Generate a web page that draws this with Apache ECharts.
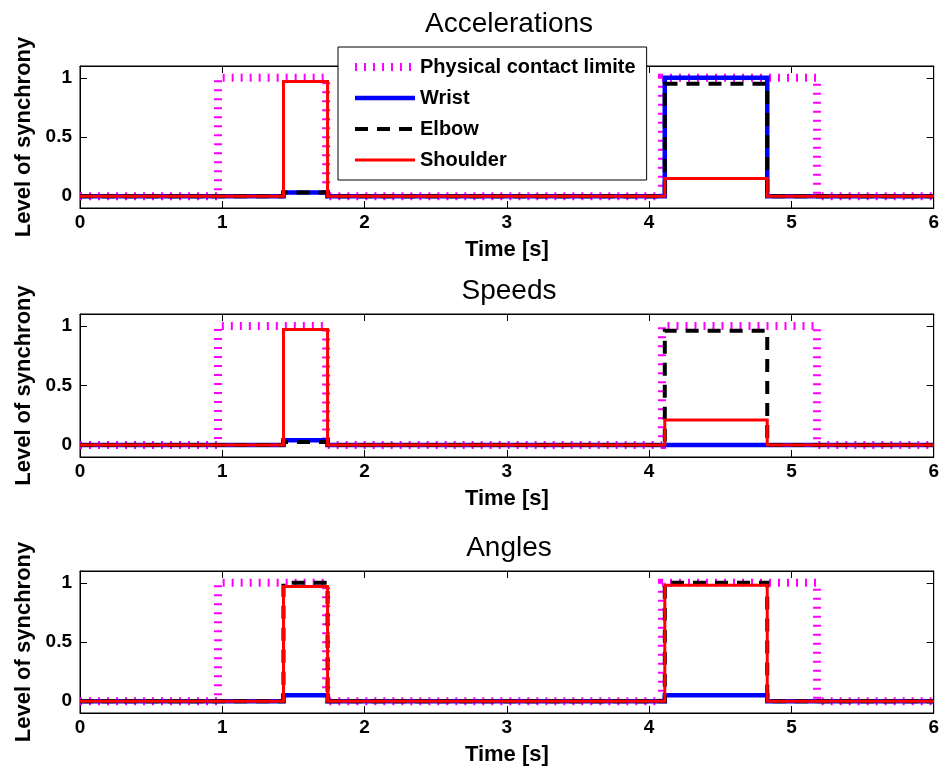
<!DOCTYPE html>
<html>
<head>
<meta charset="utf-8">
<title>Level of synchrony</title>
<script src="https://cdn.jsdelivr.net/npm/echarts@6/dist/echarts.min.js"></script>
<style>
  html, body { margin: 0; padding: 0; background: #fff; }
  #chart { width: 942px; height: 771px; }
</style>
</head>
<body>
<div id="chart"></div>
<script>
// Time span of every panel (seconds)
const timeRange = [0, 6];
const levelTicks = [0, 0.5, 1];

// Panel titles
const panelTitles = ['Accelerations', 'Speeds', 'Angles'];

// Series names
const seriesNames = ['Physical contact limite', 'Wrist', 'Elbow', 'Shoulder'];

// Windows where the contact limit is active [start, end] (s)
const contactWindows = [[0.97, 1.73], [4.09, 5.18]];
const contactLevels = [1, 1];

// Windows of the two synchrony pulses [start, end] (s)
const pulseWindows = [[1.43, 1.74], [4.11, 4.83]];

// Level of each joint during pulse 1 and pulse 2
const accWrist    = [0.03, 1.00];
const accElbow    = [0.03, 0.95];
const accShoulder = [0.97, 0.15];

const spdWrist    = [0.04, 0.00];
const spdElbow    = [0.025, 0.96];
const spdShoulder = [0.97, 0.21];

const angWrist    = [0.05, 0.05];
const angElbow    = [1.00, 1.00];
const angShoulder = [0.97, 0.98];

// Build step points: value v_i holds from window start to window end, 0 elsewhere
function stepData(windows, levels) {
  const pts = [[timeRange[0], 0]];
  windows.forEach((w, i) => {
    pts.push([w[0], levels[i]]);
    pts.push([w[1], 0]);
  });
  pts.push([timeRange[1], 0]);
  return pts;
}

const panels = [
  [accWrist, accElbow, accShoulder],
  [spdWrist, spdElbow, spdShoulder],
  [angWrist, angElbow, angShoulder]
];

const FONT = "'Liberation Sans', Arial, Helvetica, sans-serif";
const gridTops = [66, 314, 571];
const gridHeights = [142, 143, 142];
const titleTops = [5, 272, 529];
const gridLeft = 80, gridRight = 7;

const styles = [
  { color: '#ff00ff', width: 8, type: [2, 7] },
  { color: '#0000ff', width: 4.5, type: 'solid' },
  { color: '#000000', width: 4, type: [13, 9] },
  { color: '#ff0000', width: 3, type: 'solid' }
];

const grids = [], xAxes = [], yAxes = [], series = [], titles = [];

panels.forEach((joints, p) => {
  grids.push({
    left: gridLeft, right: gridRight, top: gridTops[p], height: gridHeights[p],
    show: true, borderColor: '#000', borderWidth: 1, backgroundColor: '#fff'
  });
  titles.push({
    text: panelTitles[p],
    left: 504,
    textAlign: 'center',
    top: titleTops[p],
    textStyle: { fontFamily: FONT, fontSize: 28, fontWeight: 'normal', color: '#000' }
  });
  const tickCommon = { show: true, inside: true, length: 7, lineStyle: { color: '#000', width: 1 } };
  // bottom time axis
  xAxes.push({
    gridIndex: p, type: 'value', position: 'bottom',
    min: timeRange[0], max: timeRange[1], interval: 1,
    axisLine: { show: true, onZero: false, lineStyle: { color: '#000', width: 1 } },
    axisTick: tickCommon,
    axisLabel: { show: true, margin: 5, fontFamily: FONT, fontSize: 19, fontWeight: 'bold', color: '#000' },
    splitLine: { show: false },
    name: 'Time [s]', nameLocation: 'middle', nameGap: 31,
    nameTextStyle: { fontFamily: FONT, fontSize: 22, fontWeight: 'bold', color: '#000' }
  });
  // top mirror
  xAxes.push({
    gridIndex: p, type: 'value', position: 'top',
    min: timeRange[0], max: timeRange[1], interval: 1,
    axisLine: { show: true, onZero: false, lineStyle: { color: '#000', width: 1 } },
    axisTick: tickCommon,
    axisLabel: { show: false },
    splitLine: { show: false }
  });
  // left level axis
  yAxes.push({
    gridIndex: p, type: 'value', position: 'left',
    min: -0.1, max: 1.1,
    axisLine: { show: true, onZero: false, lineStyle: { color: '#000', width: 1 } },
    axisTick: Object.assign({ customValues: levelTicks }, tickCommon),
    axisLabel: { show: true, customValues: levelTicks, margin: 8, fontFamily: FONT, fontSize: 19, fontWeight: 'bold', color: '#000' },
    splitLine: { show: false },
    name: 'Level of synchrony', nameLocation: 'middle', nameGap: 45,
    nameTextStyle: { fontFamily: FONT, fontSize: 22, fontWeight: 'bold', color: '#000' }
  });
  // right mirror
  yAxes.push({
    gridIndex: p, type: 'value', position: 'right',
    min: -0.1, max: 1.1,
    axisLine: { show: true, onZero: false, lineStyle: { color: '#000', width: 1 } },
    axisTick: Object.assign({ customValues: levelTicks }, tickCommon),
    axisLabel: { show: false },
    splitLine: { show: false }
  });

  const dataSets = [
    stepData(contactWindows, contactLevels),
    stepData(pulseWindows, joints[0]),
    stepData(pulseWindows, joints[1]),
    stepData(pulseWindows, joints[2])
  ];
  dataSets.forEach((d, k) => {
    series.push({
      name: seriesNames[k],
      type: 'line',
      xAxisIndex: p * 2,
      yAxisIndex: p * 2,
      data: d,
      step: 'end',
      symbol: 'none',
      animation: false,
      silent: true,
      z: 2 + k,
      lineStyle: {
        color: styles[k].color, width: styles[k].width, type: styles[k].type,
        cap: 'butt', join: 'miter'
      },
      itemStyle: { color: styles[k].color }
    });
  });
});

const chart = echarts.init(document.getElementById('chart'), null, { renderer: 'canvas' });
chart.setOption({
  backgroundColor: '#fff',
  animation: false,
  title: titles,
  grid: grids,
  xAxis: xAxes,
  yAxis: yAxes,
  legend: {
    data: seriesNames,
    orient: 'vertical',
    left: 338, top: 47,
    itemWidth: 60, itemHeight: 19, itemGap: 11,
    padding: [10, 11, 10, 13],
    backgroundColor: '#fff',
    borderColor: '#000', borderWidth: 1, borderRadius: 0,
    selectedMode: false,
    itemStyle: { opacity: 0 },
    lineStyle: { width: 'inherit', type: 'inherit', cap: 'butt' },
    textStyle: { fontFamily: FONT, fontSize: 20, fontWeight: 'bold', color: '#000' },
    z: 10
  },
  series: series
});
</script>
</body>
</html>
